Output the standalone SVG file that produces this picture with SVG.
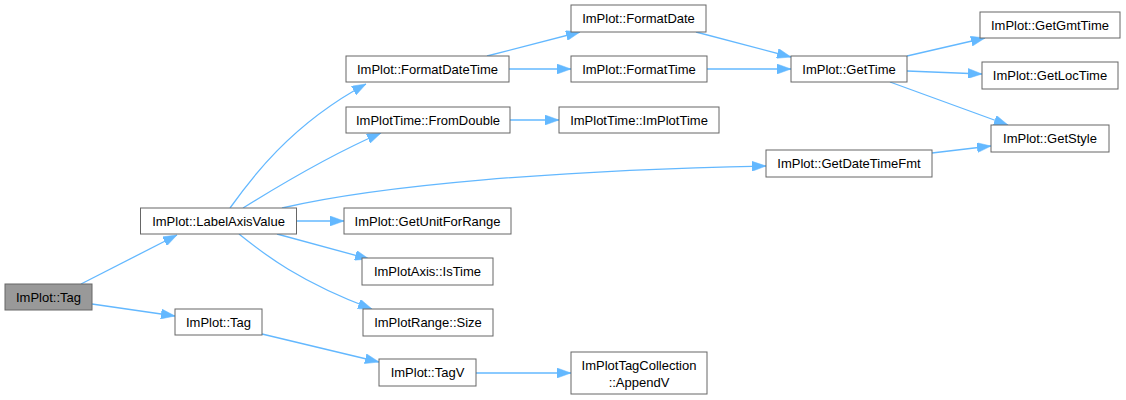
<svg xmlns="http://www.w3.org/2000/svg" width="1126" height="400" viewBox="0 0 1126 400">
<defs>
<marker id="ah" viewBox="0 0 14 10" markerWidth="14" markerHeight="10" refX="14" refY="5" markerUnits="userSpaceOnUse" orient="auto">
<path d="M0,0 L14,5 L0,10 z" fill="#63b8ff" stroke="#63b8ff" stroke-width="0.5"/>
</marker>
</defs>
<style>
.n rect{fill:#ffffff;stroke:#666666;stroke-width:1}
.n.cur rect{fill:#999999;stroke:#666666}
.n text{font-family:"Liberation Sans",Arial,sans-serif;font-size:13px;fill:#000000;text-anchor:middle}
.e path{fill:none;stroke:#63b8ff;stroke-width:1.3;marker-end:url(#ah)}
</style>
<rect width="1126" height="400" fill="#ffffff"/>
<g id="edges" class="e">
<path d="M81,284 L177,235"/>
<path d="M92,304 L175,316"/>
<path d="M230,208 C250,180 290,125 366,84"/>
<path d="M243,208 C280,185 330,155 381,133"/>
<path d="M282,208 C380,185 560,170 766,166"/>
<path d="M297,221 L344,221"/>
<path d="M277,234 L369,259"/>
<path d="M239,234 C265,255 300,282 372,309"/>
<path d="M262,334 L379,362"/>
<path d="M476,373 L571,373"/>
<path d="M487,56 L580,32"/>
<path d="M509,69 L571,69"/>
<path d="M510,120 L559,120"/>
<path d="M696,32 L791,57"/>
<path d="M707,69 L791,69"/>
<path d="M907,56 L985,38"/>
<path d="M907,71 L982,74"/>
<path d="M890,82 L1008,125"/>
<path d="M932,153 L991,146"/>
</g>
<g id="n_tag_root" class="n cur"><rect x="5" y="284" width="87" height="26"/><text x="48.5" y="301.5">ImPlot::Tag</text></g>
<g id="n_labelaxisvalue" class="n"><rect x="140.5" y="208" width="156" height="26"/><text x="218.5" y="225.5">ImPlot::LabelAxisValue</text></g>
<g id="n_tag" class="n"><rect x="175" y="309" width="87" height="26"/><text x="218.5" y="326.5">ImPlot::Tag</text></g>
<g id="n_formatdatetime" class="n"><rect x="346" y="56" width="163" height="26"/><text x="427.5" y="73.5">ImPlot::FormatDateTime</text></g>
<g id="n_fromdouble" class="n"><rect x="346" y="107" width="164" height="26"/><text x="428" y="124.5">ImPlotTime::FromDouble</text></g>
<g id="n_getunitforrange" class="n"><rect x="344" y="208" width="167" height="26"/><text x="427.5" y="225.5">ImPlot::GetUnitForRange</text></g>
<g id="n_istime" class="n"><rect x="362" y="258" width="131" height="27"/><text x="427.5" y="276">ImPlotAxis::IsTime</text></g>
<g id="n_size" class="n"><rect x="363" y="309" width="130" height="27"/><text x="428" y="327">ImPlotRange::Size</text></g>
<g id="n_tagv" class="n"><rect x="379" y="359" width="97" height="27"/><text x="427.5" y="377">ImPlot::TagV</text></g>
<g id="n_formatdate" class="n"><rect x="571" y="5" width="135" height="27"/><text x="638.5" y="23">ImPlot::FormatDate</text></g>
<g id="n_formattime" class="n"><rect x="571" y="56" width="136" height="26"/><text x="639" y="73.5">ImPlot::FormatTime</text></g>
<g id="n_implottime" class="n"><rect x="559" y="107" width="160" height="26"/><text x="639" y="124.5">ImPlotTime::ImPlotTime</text></g>
<g id="n_appendv" class="n"><rect x="571" y="352" width="136" height="42"/><text x="639" y="370">ImPlotTagCollection</text><text x="639" y="387">::AppendV</text></g>
<g id="n_getdatetimefmt" class="n"><rect x="766" y="150" width="166" height="27"/><text x="849" y="168">ImPlot::GetDateTimeFmt</text></g>
<g id="n_gettime" class="n"><rect x="791" y="56" width="116" height="26"/><text x="849" y="73.5">ImPlot::GetTime</text></g>
<g id="n_getgmttime" class="n"><rect x="980" y="12" width="140" height="26"/><text x="1050" y="29.5">ImPlot::GetGmtTime</text></g>
<g id="n_getloctime" class="n"><rect x="982" y="62" width="136" height="27"/><text x="1050" y="80">ImPlot::GetLocTime</text></g>
<g id="n_getstyle" class="n"><rect x="991" y="125" width="118" height="27"/><text x="1050" y="143">ImPlot::GetStyle</text></g>
</svg>
